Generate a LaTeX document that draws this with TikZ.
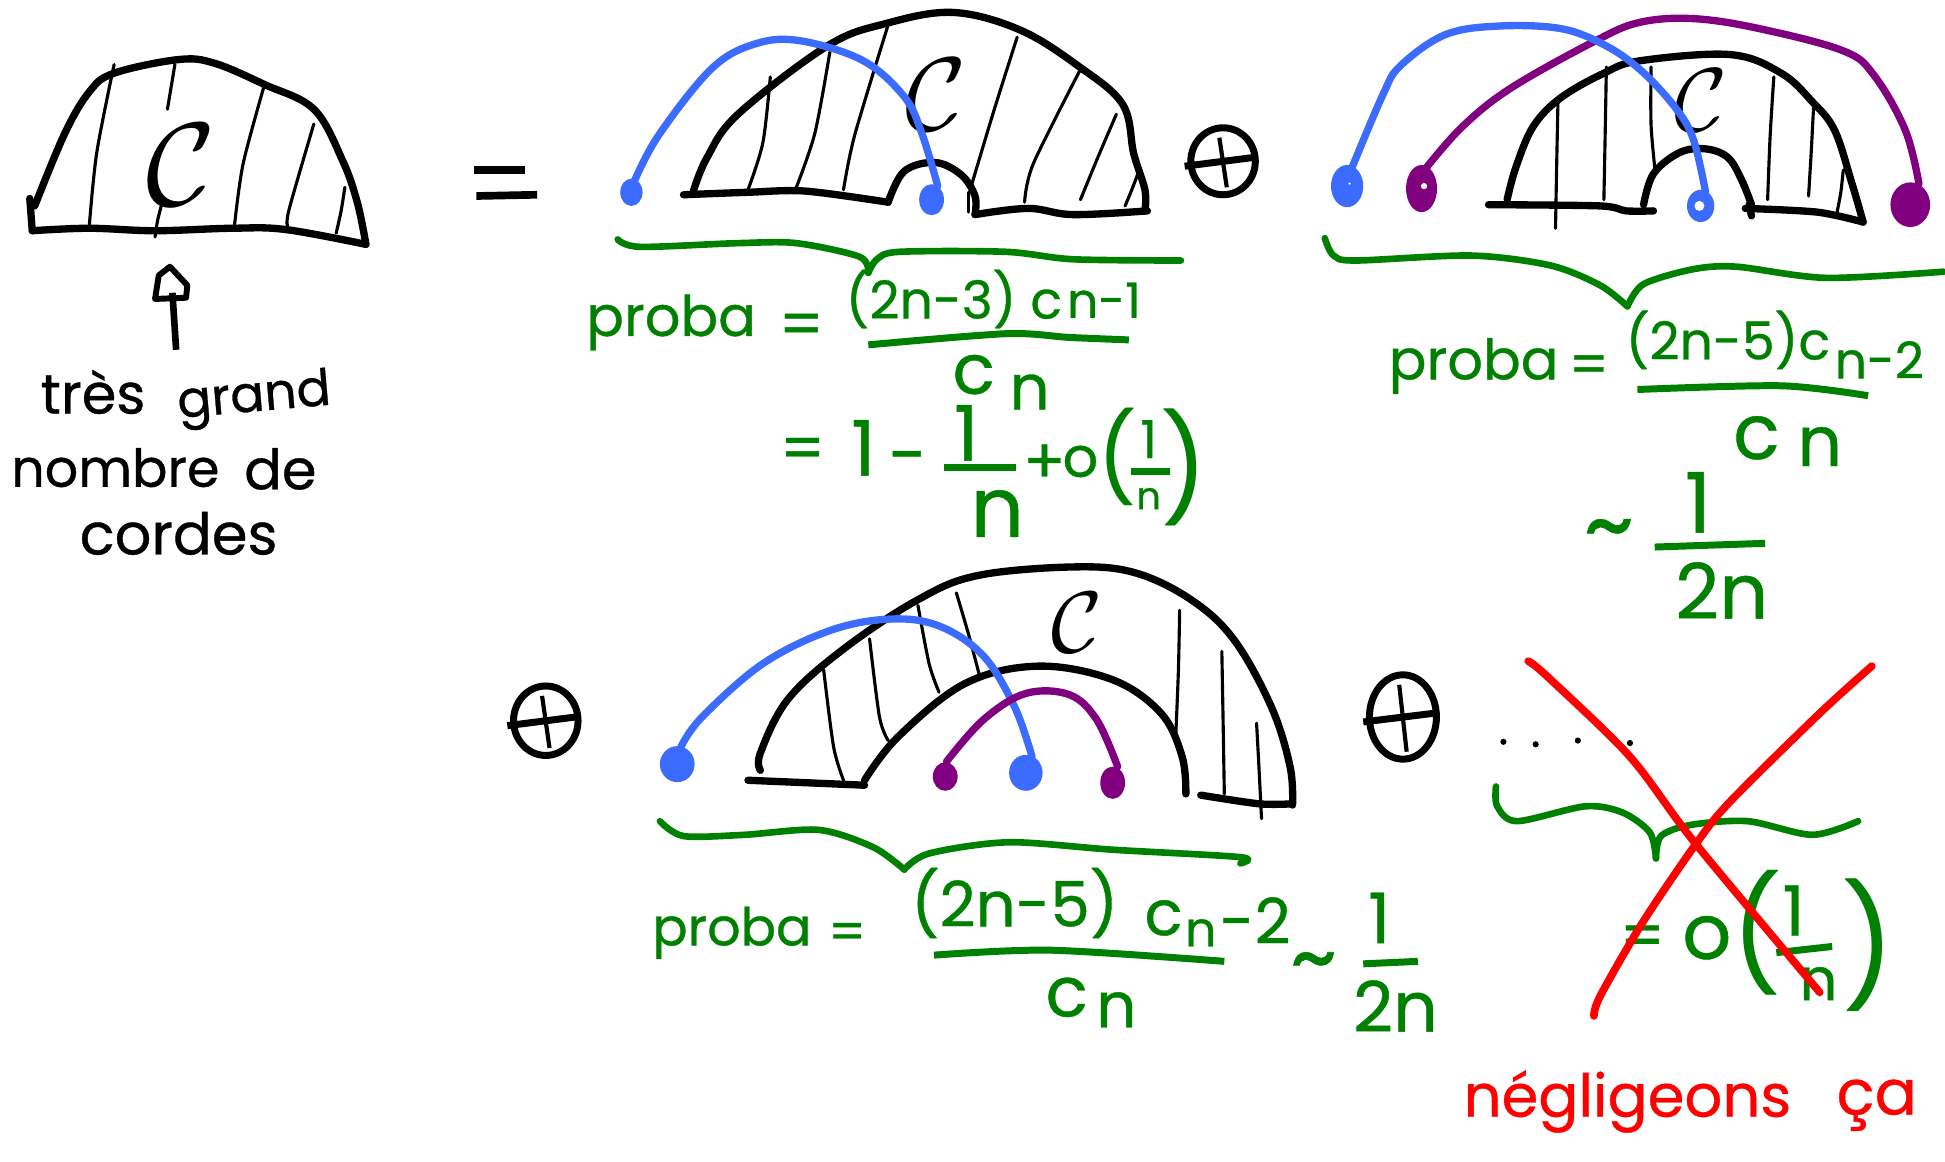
\documentclass[tikz,border=0pt]{standalone}
\usepackage{fontspec}
\newfontfamily\handfont[FakeBold=0.6]{Poppins}
\newfontfamily\plainhand{Poppins}
\usetikzlibrary{positioning}
\definecolor{InkBlue}{RGB}{60, 108, 255}
\definecolor{InkPurple}{RGB}{128, 0, 128}
\definecolor{InkGreen}{RGB}{0, 128, 0}
\definecolor{InkRed}{RGB}{255, 0, 0}
\tikzset{
  hand/.style={inner sep=0pt, font=\handfont\fontsize{#1}{#1}\selectfont},
  handgreen/.style={hand=#1, text=InkGreen},
  parengreen/.style={inner sep=0pt, text=InkGreen, font=\plainhand\fontsize{#1}{#1}\selectfont},
  calc/.style={inner sep=0pt, scale=#1},
  wall/.style={line width=2.1pt, line cap=round, line join=round},
  hatchline/.style={line width=0.9pt, line cap=round},
  chord/.style={line width=2.1pt, line cap=round},
  brace/.style={InkGreen, line width=1.9pt, line cap=round, line join=round},
  bar/.style={InkGreen, line width=2pt},
  cross/.style={InkRed, line width=2.2pt, line cap=round}
}
\begin{document}
\begin{tikzpicture}[x=0.125mm, y=-0.125mm]
    \useasboundingbox (0,0) rectangle (1568,936);

    % Plus signs
    \foreach \cx/\cy/\rx/\ry in {986/130/26/27, 440/581/26/28, 1131/578/27/34} {
      \draw[line width=2pt] (\cx,\cy) ellipse [x radius=\rx, y radius=\ry];
      \draw[line width=2pt] (\cx-\rx-5,\cy+4) -- (\cx+\rx-2,\cy-3);
      \draw[line width=1.2pt] (\cx-3,\cy-\ry+8) -- (\cx+3,\cy+\ry-6);
    }

    % Chord diagram alone
    \draw[wall] plot[smooth, tension=0.6] coordinates {(28,166) (52,108) (72,74) (92,59) (144,48) (173,51) (213,68) (253,88) (276,129) (288,163) (295,197)};
    \draw[wall] (24,160) -- (26,186);
    \draw[wall] plot[smooth, tension=0.6] coordinates {(26,186) (72,184) (125,186) (187,184) (230,185) (295,197)};
    \foreach \ax/\ay/\bx/\by/\ex/\ey in {92/52/78/123/72/182, 141/52/138/70/135/88, 130/166/127/178/125/191, 213/69/196/132/189/182, 253/100/233/169/232/183, 278/151/275/170/271/188} {
      \draw[hatchline] plot[smooth] coordinates {(\ax,\ay) (\bx,\by) (\ex,\ey)};
    }
    \node[calc=3.4] (calA) at (146,133) {$\mathcal{C}$};
    \draw[line width=1.9pt] (142,282) -- (139,236);
    \draw[line width=1.7pt, line join=round] (125,241) -- (128,222) -- (137,215) -- (151,230) -- (150,240) -- cycle;
    \node[hand=16] (tres) at (75,316) {très};
    \node[hand=14.5, rotate=5] (grand) at (205,322) {grand};
    \node[hand=15] (nombre) at (93,377) {nombre};
    \node[hand=16] (de) at (226,378) {de};
    \node[hand=16.5] (cordes) at (144,430) {cordes};

    \draw[line width=2.2pt] (382,137) -- (423,137);
    \draw[line width=2.2pt] (384,158) -- (433,157);

    % First case
    \draw[wall] plot[smooth, tension=0.6] coordinates {(559,154) (570,127) (595,92) (667,37) (714,19) (768,10) (822,24) (869,53) (905,84) (914,124) (923,153) (923,170)};
    \draw[wall] plot[smooth, tension=0.5] coordinates {(551,157) (603,155) (649,154) (716,163)};
    \draw[wall] plot[smooth, tension=0.6] coordinates {(716,163) (729,138) (754,131) (775,141) (786,158) (786,173)};
    \draw[wall] plot[smooth, tension=0.6] coordinates {(786,173) (829,168) (865,173) (925,170)};
    \draw[hatchline] (781,155) -- (781,171);
    \foreach \ax/\ay/\bx/\by/\ex/\ey in {621/62/615/115/603/153, 669/42/657/107/642/151, 716/20/689/109/680/153, 820/30/801/90/783/150, 871/56/833/132/826/163, 900/92/885/127/871/161, 917/141/912/154/907/166} {
      \draw[hatchline] plot[smooth] coordinates {(\ax,\ay) (\bx,\by) (\ex,\ey)};
    }
    \node[calc=3] (calB) at (755,76) {$\mathcal{C}$};
    \draw[chord, InkBlue] plot[smooth, tension=0.6] coordinates {(511,147) (531,109) (574,55) (610,35) (646,33) (696,49) (729,78) (743,107) (756,150)};
    \fill[InkBlue] (509,155) ellipse [x radius=9, y radius=11];
    \fill[InkBlue] (751,161) ellipse [x radius=10, y radius=12.5];

    \draw[brace] plot[smooth, tension=0.5] coordinates {(498,193) (516,199) (595,196) (642,196) (693,207) (700,220)};
    \draw[brace] plot[smooth, tension=0.5] coordinates {(700,220) (707,209) (725,203) (811,203) (865,209) (952,210)};
    \node[handgreen=16] (probaA) at (541,260) {proba};
    \node[handgreen=18] (eqA) at (646,266) {=};
    \node[handgreen=15] (numA) at (769,241) {(2n-3) c};
    \node[handgreen=14] (subA) at (890,242) {n-1};
    \draw[bar] plot[smooth] coordinates {(700,278) (811,269) (862,272) (910,274)};
    \node[handgreen=20] (denA) at (785,302) {c};
    \node[handgreen=18] (denNA) at (830,316) {n};
    \node[handgreen=18] (eqAb) at (647,366) {=};
    \node[handgreen=22] (oneA) at (696,361) {1};
    \node[handgreen=20] (minusA) at (732,375) {-};
    \node[handgreen=22] (oneAb) at (779,349) {1};
    \draw[bar] (761,377) -- (819,377);
    \node[handgreen=24] (nA) at (804,414) {n};
    \node[handgreen=18] (plusA) at (842,374) {+};
    \node[handgreen=16] (oA) at (871,372) {o};
    \node[parengreen=25] (lparA) at (901,368) {(};
    \node[handgreen=15] (oneAc) at (926,354) {1};
    \draw[bar] (912,380) -- (943,380);
    \node[handgreen=11] (nAb) at (926,402) {n};
    \node[parengreen=30] (rparA) at (955,377) {)};

    % Second case
    \draw[wall] plot[smooth, tension=0.6] coordinates {(1215,161) (1222,135) (1236,102) (1258,79) (1293,59) (1322,49) (1395,44) (1436,59) (1461,82) (1479,105) (1493,148) (1502,179)};
    \draw[wall] plot[smooth, tension=0.5] coordinates {(1200,165) (1290,166) (1311,170) (1333,170)};
    \draw[wall] plot[smooth, tension=0.6] coordinates {(1325,165) (1333,140) (1354,123) (1375,120) (1393,127) (1404,145) (1412,165)};
    \draw[wall] (1410,165) -- (1412,174);
    \draw[wall] plot[smooth, tension=0.5] coordinates {(1407,168) (1465,171) (1502,179)};
    \foreach \ax/\ay/\bx/\by/\ex/\ey in {1256/81/1255/130/1254/184, 1295/54/1294/110/1293/161, 1331/54/1331/100/1334/135, 1430/62/1427/110/1425/161, 1462/87/1460/125/1458/158, 1486/137/1484/155/1481/171} {
      \draw[hatchline] plot[smooth] coordinates {(\ax,\ay) (\bx,\by) (\ex,\ey)};
    }
    \node[calc=2.6] (calC) at (1371,81) {$\mathcal{C}$};
    \draw[chord, InkPurple] plot[smooth, tension=0.6] coordinates {(1150,135) (1179,102) (1218,71) (1286,33) (1322,18) (1365,15) (1418,23) (1486,41) (1511,61) (1536,105) (1547,148)};
    \draw[chord, InkBlue] plot[smooth, tension=0.6] coordinates {(1090,135) (1115,76) (1129,53) (1165,28) (1208,21) (1258,23) (1293,36) (1322,56) (1350,86) (1365,112) (1375,155)};
    \fill[InkBlue] (1086,150) ellipse [x radius=13, y radius=17];
    \fill[InkPurple] (1146,152) ellipse [x radius=12.5, y radius=19];
    \fill[InkBlue] (1371,166) ellipse [x radius=11, y radius=13];
    \fill[InkPurple] (1540,165) ellipse [x radius=16, y radius=18];
    \fill[white] (1088,148) circle (1);
    \fill[white] (1148,150) circle (2.5);
    \fill[white] (1370,166) circle (4);

    \draw[brace] plot[smooth, tension=0.5] coordinates {(1068,192) (1075,206) (1093,210) (1186,206) (1250,214) (1290,230) (1312,247)};
    \draw[brace] plot[smooth, tension=0.5] coordinates {(1312,247) (1325,229) (1365,217) (1400,215) (1472,224) (1567,219)};
    \node[handgreen=16] (probaB) at (1188,295) {proba};
    \node[handgreen=16] (eqB) at (1281,298) {=};
    \node[handgreen=15] (numB) at (1393,274) {(2n-5)c};
    \node[handgreen=14.5] (subB) at (1515,290) {n-2};
    \draw[bar] plot[smooth] coordinates {(1320,314) (1436,311) (1506,319)};
    \node[handgreen=22] (denB) at (1416,353) {c};
    \node[handgreen=20] (denNB) at (1467,360) {n};
    \node[handgreen=28] (simB) at (1297,434) {\textasciitilde};
    \node[handgreen=24] (oneB) at (1369,405) {1};
    \draw[bar] (1334,441) -- (1423,438);
    \node[handgreen=22] (twoB) at (1388,476) {2n};

    % Third case
    \draw[wall] plot[smooth, tension=0.6] coordinates {(613,621) (613,607) (635,564) (679,524) (739,484) (788,464) (867,457) (916,462) (961,484) (995,516) (1025,570) (1040,618) (1042,649)};
    \draw[wall] (603,629) -- (697,633);
    \draw[wall] plot[smooth, tension=0.6] coordinates {(697,629) (724,594) (778,551) (837,537) (897,548) (936,575) (953,610) (956,640)};
    \draw[wall] plot[smooth, tension=0.5] coordinates {(968,641) (1015,648) (1042,648)};
    \foreach \ax/\ay/\bx/\by/\ex/\ey in {664/540/672/602/680/629, 701/515/709/578/716/597, 740/488/749/535/757/558, 771/478/781/512/790/546, 951/492/950/540/948/590, 985/525/986/580/987/640, 1013/583/1015/620/1017/660} {
      \draw[hatchline] plot[smooth] coordinates {(\ax,\ay) (\bx,\by) (\ex,\ey)};
    }
    \node[calc=2.5] (calD) at (868,502) {$\mathcal{C}$};
    \draw[chord, InkBlue] plot[smooth, tension=0.6] coordinates {(549,602) (566,578) (615,535) (670,508) (719,499) (758,505) (793,529) (818,570) (832,610)};
    \draw[chord, InkPurple] plot[smooth, tension=0.6] coordinates {(763,614) (793,580) (827,559) (862,560) (884,580) (901,618)};
    \fill[InkBlue] (546,616) ellipse [x radius=14, y radius=14.5];
    \fill[InkPurple] (762,626) ellipse [x radius=10, y radius=11.5];
    \fill[InkBlue] (827,623) ellipse [x radius=13.5, y radius=14.5];
    \fill[InkPurple] (897,631) ellipse [x radius=10, y radius=13];

    \draw[brace] plot[smooth, tension=0.5] coordinates {(532,662) (551,674) (600,673) (660,669) (704,683) (729,701)};
    \draw[brace] plot[smooth, tension=0.5] coordinates {(729,701) (749,688) (813,679) (897,685) (1000,691) (1000,696)};
    \node[handgreen=15] (probaD) at (590,752) {proba};
    \node[handgreen=15] (eqD) at (683,755) {=};
    \node[handgreen=18] (numD) at (818,728) {(2n-5)};
    \node[handgreen=18] (cD) at (938,740) {c};
    \node[handgreen=14] (nD) at (968,752) {n};
    \node[handgreen=18] (subD) at (1012,742) {-2};
    \draw[bar] plot[smooth] coordinates {(753,770) (847,766) (987,775)};
    \node[handgreen=20] (denD) at (860,804) {c};
    \node[handgreen=18] (denND) at (900,814) {n};
    \node[handgreen=26] (simD) at (1059,782) {\textasciitilde};
    \node[handgreen=20] (oneD) at (1112,740) {1};
    \draw[bar] (1099,777) -- (1143,775);
    \node[handgreen=20] (twoD) at (1125,811) {2n};

    % Remaining cases
    \foreach \cx/\cy in {1212/598, 1238/600, 1272/597, 1314/599} {
      \fill (\cx,\cy) circle (2.5);
    }
    \draw[brace] plot[smooth, tension=0.5] coordinates {(1206,634) (1207,650) (1223,662) (1278,650) (1308,655) (1330,671) (1335,692)};
    \draw[brace] plot[smooth, tension=0.5] coordinates {(1335,692) (1339,674) (1363,665) (1409,662) (1461,673) (1498,662)};
    \node[handgreen=18] (eqE) at (1324,759) {=};
    \node[handgreen=22] (oE) at (1376,756) {o};
    \node[parengreen=32] (lparE) at (1416,752) {(};
    \node[handgreen=20] (oneE) at (1446,734) {1};
    \draw[bar] (1432,768) -- (1477,763);
    \node[handgreen=17] (nE) at (1466,793) {n};
    \node[parengreen=34] (rparE) at (1506,762) {)};
    \draw[cross] plot[smooth, tension=0.5] coordinates {(1232,533) (1247,545) (1314,610) (1366,679) (1467,800)};
    \draw[cross] plot[smooth, tension=0.5] coordinates {(1509,537) (1467,575) (1394,647) (1366,682) (1324,744) (1290,803) (1285,819)};
    \node[hand=17, text=InkRed] (negligeons) at (1312,888) {négligeons};
    \node[hand=18, text=InkRed] (ca) at (1513,891) {ça};
\end{tikzpicture}
\end{document}
